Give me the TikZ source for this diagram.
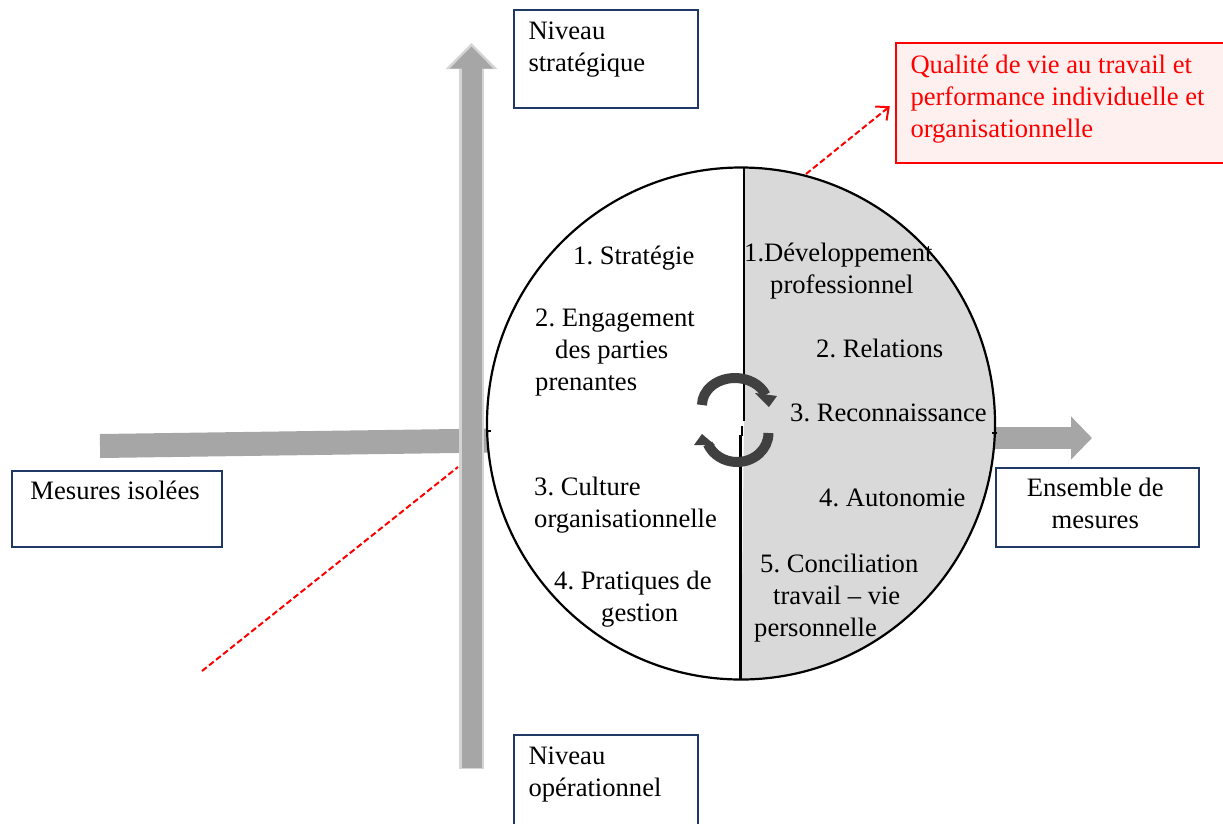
\documentclass[tikz,border=0pt]{standalone}
\usepackage{fontspec}
\setmainfont{Liberation Serif}
\usetikzlibrary{arrows.meta,shapes.geometric,calc}
\definecolor{boxblue}{HTML}{1F3864}
\definecolor{band}{HTML}{A6A6A6}
\definecolor{bandlight}{HTML}{D4D4D4}
\definecolor{halfgrey}{HTML}{D9D9D9}
\definecolor{swirl}{HTML}{404040}
\definecolor{redfill}{HTML}{FFF0F0}
\newcommand\boxtxt[4]{\begin{minipage}[c][#2pt][t]{#1pt}\vspace*{#3pt}\setlength{\parindent}{0pt}#4\end{minipage}}
\tikzset{
  x=1pt,y=-1pt,
  every node/.style={font=\fontsize{26.6}{32}\selectfont\frenchspacing},
  boxed/.style={draw=boxblue,line width=2pt,fill=white,inner sep=0pt,anchor=north west},
  label text/.style={inner sep=0pt,anchor=base west,align=left},
  bandline/.style={draw=band},
  reddash/.style={draw=red,line width=2pt,dash pattern=on 6pt off 3pt},
  swirlarc/.style={draw=swirl,line width=10pt},
}
\begin{document}
\begin{tikzpicture}
\useasboundingbox (0,0) rectangle (1223,823);
\clip (0,0) rectangle (1223,823);
\coordinate (hstart) at (100,446);
\coordinate (hend) at (492,440.5);
\coordinate (harrowstart) at (990,438);
\coordinate (harrowtip) at (1092,438);
\coordinate (vbot) at (471.5,769);
\coordinate (vtop) at (471.5,43);
\coordinate (reddashA) at (202,671);
\coordinate (reddashB) at (458,467);
\coordinate (reddashC) at (806,174);
% horizontal bands
\draw[bandline,line width=24pt] (hstart) -- (hend);
\draw[band,line width=22pt,-{Triangle[length=21pt,width=42pt]}] (harrowstart) -- (harrowtip);
% vertical arrow
\draw[bandlight,line width=24.5pt,-{Triangle[length=26pt,width=50pt]}] (vbot) -- (vtop);
\draw[band,line width=20pt,-{Triangle[length=22pt,width=42pt]}] ($(vbot)+(0,-1.5)$) -- ($(vtop)+(0,3.5)$);
% disc
\node[ellipse,minimum width=508pt,minimum height=512pt,inner sep=0pt,fill=white] (disc) at (741,423.5) {};
\fill[halfgrey] (744,167.5) arc[start angle=-90,end angle=90,x radius=251.5,y radius=256] -- (741,679.5) -- (744,425) -- cycle;
\draw[line width=2.2pt] (741,423.5) ellipse[x radius=254,y radius=256];
\draw[line width=2pt] (744,167.5) -- (744,421);
\draw[line width=1.3pt] (742,426) -- (742,436);
\draw[line width=3.2pt] (740.7,435) -- (740.7,680);
\draw[line width=1.5pt] (486,431) -- (491,431);
\draw[line width=1.5pt] (992,433) -- (997,433);
% swirl
\draw[swirlarc] (702,405) arc[start angle=180,end angle=338,x radius=33,y radius=27];
\fill[swirl] (755,393) -- (777,396) -- (769,407) -- cycle;
\draw[swirlarc] (768.5,433) arc[start angle=0,end angle=158,x radius=31.5,y radius=29];
\fill[swirl] (702,434) -- (694,445) -- (715,445) -- cycle;
% disc texts
\node[label text] (t1) at (573,264) {1. Stratégie};
\node[label text] (t2) at (535,390) {2. Engagement\\\hspace*{20pt}des parties\\prenantes};
\node[label text] (t3) at (534,527) {3. Culture\\organisationnelle};
\node[label text] (t4) at (554,621) {4. Pratiques de\\\hspace*{47pt}gestion};
\node[label text] (r1) at (744,293) {1.Développement\\\hspace*{26pt}professionnel};
\node[label text] (r2) at (816,357) {2. Relations};
\node[label text] (r3) at (790,421) {3. Reconnaissance};
\node[label text] (r4) at (819,506) {4. Autonomie};
\node[label text] (r5) at (754,636) {\hspace*{6pt}5. Conciliation\\\hspace*{19pt}travail – vie\\personnelle};
% boxes
\node[boxed] (strat) at (512.5,8.5) {\hspace*{15pt}\boxtxt{169}{98}{12}{Niveau\\stratégique}};
\node[boxed] (oper) at (512.5,733.5) {\hspace*{15pt}\boxtxt{169}{100}{12}{Niveau\\opérationnel}};
\node[boxed] (isol) at (10.5,469.5) {\hspace*{19pt}\boxtxt{191}{76.5}{10.5}{Mesures isolées}};
\node[boxed] (ens) at (994.5,466.5) {\boxtxt{199.5}{79.5}{11}{\centering Ensemble de\\mesures}\hspace*{4pt}};
\node[boxed,draw=red,fill=redfill,text=red] (qual) at (894.5,41.5) {\hspace*{15pt}\boxtxt{320}{120}{12}{Qualité de vie au travail et\\performance individuelle et\\organisationnelle}};
% dashed
\draw[reddash] (reddashA) -- (reddashB);
\draw[reddash,dash pattern=,shorten >=6pt,-{Straight Barb[length=10pt,width=18pt]}] ($(reddashC)!0.9!(qual.west)$) -- (qual.west);
\draw[reddash,shorten >=11pt] (reddashC) -- (qual.west);
\end{tikzpicture}
\end{document}
